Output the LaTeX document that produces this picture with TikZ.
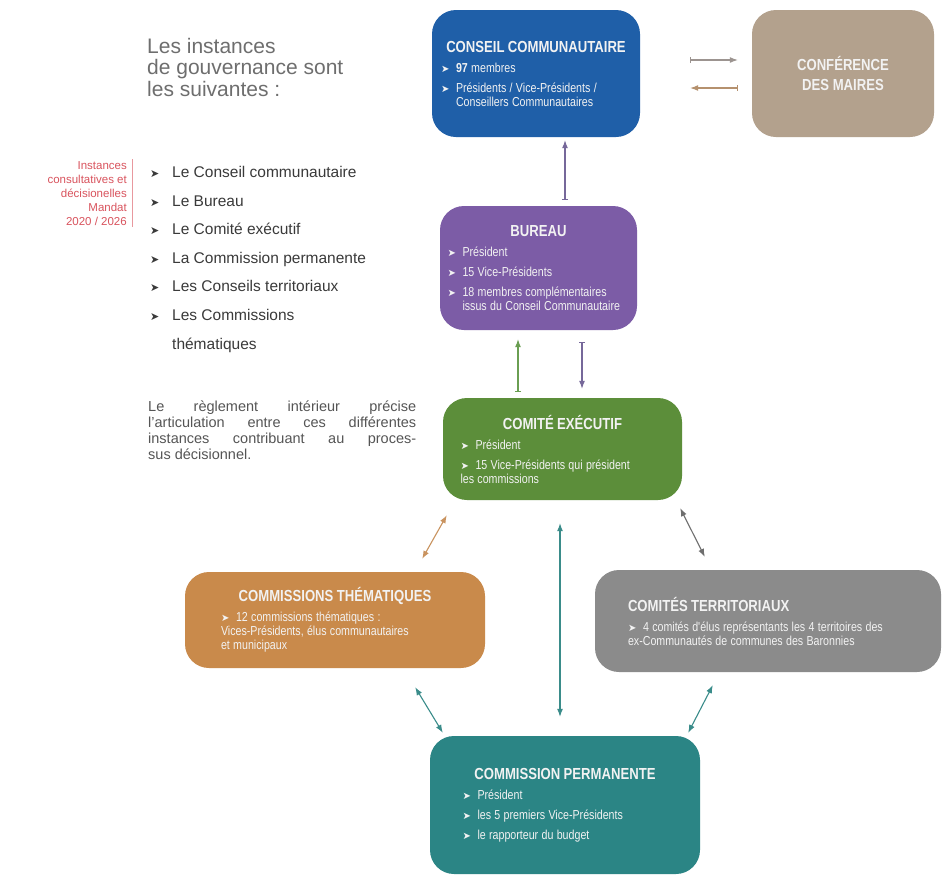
\documentclass[tikz,border=0pt]{standalone}
\usepackage{fontspec}
\setmainfont{Liberation Sans}
\newfontfamily\cond[FakeStretch=0.82]{Liberation Sans}
\newfontfamily\dvs{DejaVu Sans}
\usetikzlibrary{arrows.meta}
\definecolor{cblue}{HTML}{1F5FA8}
\definecolor{ctaupe}{HTML}{B3A18D}
\definecolor{cpurple}{HTML}{7C5CA6}
\definecolor{cgreen}{HTML}{5C8E3A}
\definecolor{corange}{HTML}{C98A4B}
\definecolor{cgrey}{HTML}{8B8B8B}
\definecolor{cteal}{HTML}{2B8585}
\definecolor{boxtext}{HTML}{F2F2F2}
\definecolor{txtgrey}{HTML}{6E6E6E}
\definecolor{listgrey}{HTML}{3A3A3A}
\definecolor{paragrey}{HTML}{555555}
\definecolor{cred}{HTML}{D9545E}
\definecolor{arrgrey}{HTML}{9C9490}
\definecolor{arrbrown}{HTML}{B5916E}
\definecolor{arrpurple}{HTML}{76689A}
\definecolor{arrgreen}{HTML}{6A9E52}
\definecolor{arrorange}{HTML}{C9935F}
\definecolor{arrdark}{HTML}{6E6E6E}
\definecolor{arrteal}{HTML}{3A8C8A}
\newcommand\bul{{\dvs\fontsize{10}{10}\selectfont ➤}}
\newcommand\btitle[1]{{\centering\bfseries\fontsize{16}{18}\selectfont #1\par}}
\newcommand\bitem[1]{\par\vspace{6pt}{\fontsize{13}{14}\selectfont\hyphenpenalty=10000\hangindent=15pt\hangafter=1\noindent\makebox[15pt][l]{\bul}#1\par}}
\newcommand\bflat[1]{\par\vspace{6pt}{\fontsize{13}{14}\selectfont\hyphenpenalty=10000\noindent\makebox[15pt][l]{\bul}#1\par}}
\newcommand\lb{\makebox[22pt][l]{{\dvs\fontsize{11}{11}\selectfont ➤}}}
\begin{document}
\begin{tikzpicture}[x=1pt,y=-1pt,
  box/.style={rounded corners=24pt, inner sep=0pt, text=boxtext, font=\cond, align=left},
  barlink/.style={line width=1.1pt, {Bar[width=6pt,line width=1pt]}-{Latex[length=8pt,width=6pt]}},
  dlink/.style={line width=1.1pt, {Latex[length=8pt,width=6pt]}-{Latex[length=8pt,width=6pt]}}]
\fill[white] (0,0) rectangle (943,876);
\useasboundingbox (0,0) rectangle (943,876);

% left texts
\node[anchor=north west, inner sep=0pt, align=left, text=txtgrey, font=\fontsize{21}{21.5}\selectfont] (intro) at (147,38) {Les instances\\de gouvernance sont\\les suivantes :};
\node[anchor=north east, inner sep=0pt, align=right, text=cred, font=\fontsize{11.5}{14}\selectfont] (note) at (127,161) {Instances\\consultatives et\\décisionelles\\Mandat\\2020 / 2026};
\draw[cred!60, line width=0.6pt] ([xshift=5pt,yshift=2pt]note.north east) -- ([xshift=5pt,yshift=-2pt]note.south east);
\node[anchor=north west, inner sep=0pt, align=left, text=listgrey, font=\fontsize{15.5}{28.6}\selectfont] (list) at (150,166) {\lb Le Conseil communautaire\\\lb Le Bureau\\\lb Le Comité exécutif\\\lb La Commission permanente\\\lb Les Conseils territoriaux\\\lb Les Commissions\\\hspace*{22pt}thématiques};
\node[anchor=north west, inner sep=0pt, text width=268pt, align=justify, text=paragrey, font=\fontsize{14.5}{16}\selectfont] (para) at (148,401) {Le règlement intérieur précise\linebreak l'articulation entre ces différentes\linebreak instances contribuant au proces-\linebreak sus décisionnel.};

% boxes
\node[box, fill=cblue, minimum width=208pt, minimum height=127pt, text width=190pt] (conseil) at (536,73.5)
 {\btitle{CONSEIL COMMUNAUTAIRE}\bitem{\textbf{97} membres}\bitem{Présidents / Vice-Présidents /\newline Conseillers Communautaires}};
\node[box, fill=ctaupe, minimum width=182pt, minimum height=127pt, align=center, font=\cond\bfseries\fontsize{16}{20}\selectfont] (conf) at (843,73.5)
 {CONFÉRENCE\\DES MAIRES};
\node[box, fill=cpurple, minimum width=197pt, minimum height=124pt, text width=182pt] (bureau) at (538.5,268)
 {\btitle{BUREAU}\bitem{Président}\bitem{15 Vice-Présidents}\bitem{18 membres complémentaires\newline issus du Conseil Communautaire}};
\node[box, fill=cgreen, minimum width=239pt, minimum height=102pt, text width=204pt] (comite) at (562.5,449)
 {\btitle{COMITÉ EXÉCUTIF}\bitem{Président}\bflat{15 Vice-Présidents qui président\newline les commissions}};
\node[box, fill=corange, minimum width=300pt, minimum height=96pt, text width=228pt] (comth) at (335,620)
 {\btitle{COMMISSIONS THÉMATIQUES}\bflat{12 commissions thématiques :\newline Vices-Présidents, élus communautaires\newline et municipaux}};
\node[box, fill=cgrey, minimum width=346pt, minimum height=102pt, text width=316pt] (comterr) at (768,621)
 {\leftskip=18pt{\bfseries\fontsize{16}{18}\selectfont COMITÉS TERRITORIAUX\par}\bflat{4 comités d'élus représentants les 4 territoires des\newline ex-Communautés de communes des Baronnies}};
\node[box, fill=cteal, minimum width=270pt, minimum height=138pt, text width=205pt] (comperm) at (565,805)
 {\btitle{COMMISSION PERMANENTE}\bitem{Président}\bitem{les 5 premiers Vice-Présidents}\bitem{le rapporteur du budget}};

% connectors
\draw[barlink, arrgrey] ([xshift=50pt,yshift=13.5pt]conseil.east) -- ([xshift=-14pt,yshift=13.5pt]conf.west);
\draw[barlink, arrbrown] ([xshift=-14pt,yshift=-14.5pt]conf.west) -- ([xshift=50pt,yshift=-14.5pt]conseil.east);
\coordinate (bu1) at ([xshift=26.5pt,yshift=6pt]bureau.north);
\draw[barlink, arrpurple, shorten >=3pt] (bu1) -- (bu1 |- conseil.south);
\coordinate (co1) at ([xshift=-44.5pt,yshift=6pt]comite.north);
\draw[barlink, arrgreen, shorten >=9pt] (co1) -- (co1 |- bureau.south);
\coordinate (bu2) at ([xshift=43.5pt,yshift=-12pt]bureau.south);
\draw[barlink, arrpurple, shorten >=9pt] (bu2) -- (bu2 |- comite.north);
\draw[dlink, arrorange] ([xshift=4pt,yshift=-15pt]comite.south west) -- ([xshift=-63pt,yshift=13pt]comth.north east);
\draw[dlink, arrdark] ([xshift=-2pt,yshift=-8pt]comite.south east) -- ([xshift=110pt,yshift=13pt]comterr.north west);
\coordinate (co2) at ([xshift=-2.5pt,yshift=-23pt]comite.south);
\draw[dlink, arrteal, shorten >=19pt] (co2) -- (co2 |- comperm.north);
\draw[dlink, arrteal] ([xshift=-70pt,yshift=-19pt]comth.south east) -- ([xshift=13pt,yshift=3pt]comperm.north west);
\draw[dlink, arrteal] ([xshift=118pt,yshift=-13pt]comterr.south west) -- ([xshift=-12pt,yshift=3pt]comperm.north east);
\end{tikzpicture}
\end{document}
